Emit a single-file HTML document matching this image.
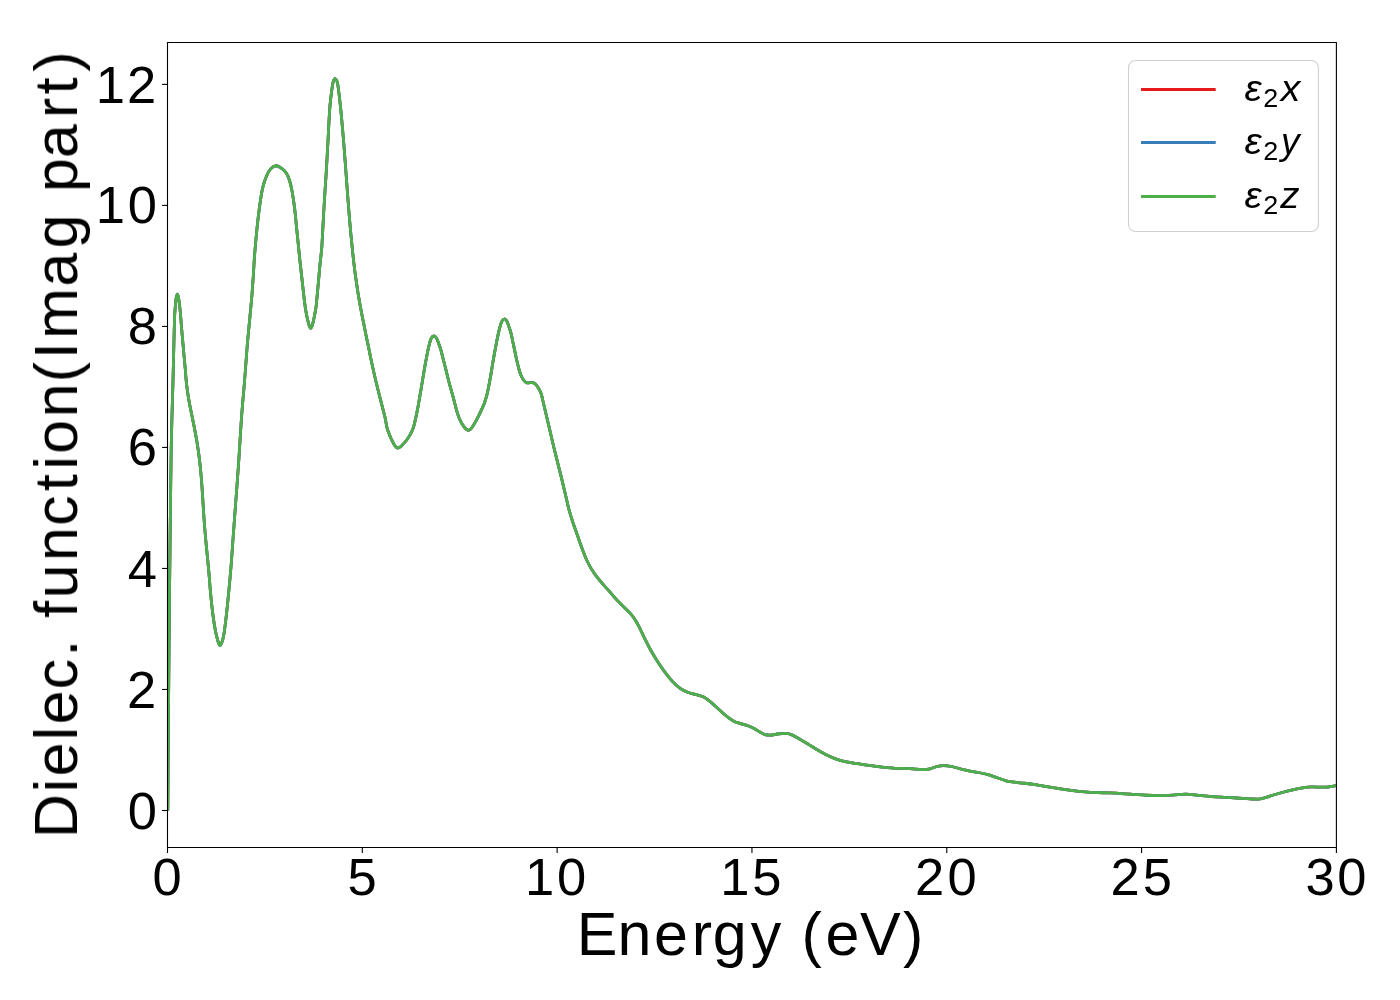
<!DOCTYPE html>
<html><head><meta charset="utf-8"><style>
html,body{margin:0;padding:0;background:#fff;overflow:hidden}
svg{display:block}
</style></head><body>
<svg width="1400" height="1000" viewBox="0 0 1400 1000">
<rect width="1400" height="1000" fill="#fff"/>
<clipPath id="ax"><rect x="167.5" y="42.5" width="1168.9" height="805.0"/></clipPath>
<g clip-path="url(#ax)" fill="none" stroke-width="2.78" stroke-linejoin="round" stroke-linecap="butt">
<path d="M167.80,810.50 C167.93,792.08 168.32,735.08 168.60,700.00 C168.88,664.92 169.10,636.67 169.46,600.00 C169.82,563.33 170.46,506.67 170.78,480.00 C171.10,453.34 171.15,451.67 171.38,440.00 C171.61,428.33 171.88,420.00 172.15,410.00 C172.43,400.00 172.72,391.67 173.02,380.00 C173.32,368.33 173.74,349.17 173.97,340.00 C174.19,330.83 174.23,329.51 174.37,325.01 C174.51,320.51 174.62,316.34 174.79,313.00 C174.97,309.67 175.19,307.54 175.43,305.00 C175.66,302.47 175.87,299.60 176.20,297.80 C176.53,296.00 177.00,294.13 177.40,294.20 C177.80,294.27 178.23,296.27 178.60,298.20 C178.97,300.13 179.29,303.00 179.62,305.80 C179.95,308.60 180.28,311.80 180.56,315.00 C180.84,318.21 180.98,320.84 181.32,325.01 C181.66,329.17 182.10,334.16 182.61,339.99 C183.13,345.82 183.99,355.18 184.44,360.01 C184.88,364.85 185.00,365.66 185.28,368.99 C185.56,372.33 185.75,376.18 186.13,380.01 C186.51,383.84 187.00,387.99 187.57,391.99 C188.14,395.99 188.83,400.00 189.57,404.00 C190.31,408.00 191.19,412.00 192.00,416.00 C192.81,420.00 193.65,424.00 194.42,428.00 C195.19,432.00 195.95,436.00 196.62,440.00 C197.30,444.00 197.92,448.00 198.48,452.00 C199.04,456.00 199.54,460.00 199.98,464.00 C200.42,468.00 200.80,472.00 201.14,476.00 C201.49,480.00 201.78,484.00 202.06,488.00 C202.34,492.00 202.58,496.00 202.83,500.00 C203.09,504.00 203.32,508.00 203.58,512.00 C203.85,516.00 204.11,520.00 204.41,524.00 C204.71,528.00 205.04,532.00 205.39,536.00 C205.73,540.00 206.12,544.00 206.51,548.00 C206.90,552.00 207.34,556.00 207.73,560.00 C208.12,564.00 208.49,568.00 208.84,572.00 C209.18,576.00 209.55,580.83 209.81,584.00 C210.06,587.16 210.01,587.17 210.38,591.00 C210.74,594.84 211.44,602.17 211.98,607.00 C212.53,611.84 213.09,616.16 213.63,619.99 C214.18,623.82 214.75,627.18 215.28,629.98 C215.81,632.78 216.27,634.73 216.79,636.80 C217.31,638.87 217.86,640.93 218.40,642.40 C218.94,643.87 219.40,645.67 220.00,645.60 C220.60,645.53 221.40,643.60 222.00,642.00 C222.60,640.40 223.17,638.00 223.60,635.99 C224.02,633.98 224.04,633.94 224.56,629.94 C225.08,625.95 226.06,617.99 226.72,612.00 C227.38,606.01 227.95,600.00 228.54,594.00 C229.12,588.00 229.70,581.99 230.23,575.99 C230.75,569.99 231.23,564.00 231.68,558.00 C232.14,552.00 232.54,545.67 232.95,540.00 C233.35,534.33 233.67,530.17 234.12,524.00 C234.58,517.83 235.15,510.00 235.67,503.00 C236.19,496.00 236.74,489.00 237.25,482.00 C237.77,475.00 238.28,468.00 238.75,461.00 C239.22,454.00 239.63,446.83 240.06,440.00 C240.49,433.17 240.88,426.34 241.33,420.01 C241.78,413.68 242.25,408.00 242.75,402.00 C243.25,395.99 243.83,390.00 244.32,384.00 C244.81,378.00 245.25,372.00 245.70,366.00 C246.16,360.00 246.55,354.00 247.04,348.00 C247.53,342.00 248.09,336.01 248.65,330.01 C249.21,324.01 249.84,317.99 250.40,311.99 C250.96,305.99 251.53,300.00 252.01,294.00 C252.50,288.00 252.91,282.00 253.31,276.00 C253.70,270.00 253.95,263.98 254.38,257.99 C254.81,251.99 255.33,246.03 255.88,240.03 C256.43,234.02 257.01,227.97 257.69,221.96 C258.37,215.96 259.11,209.69 259.94,204.01 C260.77,198.32 261.59,192.46 262.67,187.84 C263.75,183.23 265.11,179.47 266.44,176.31 C267.76,173.16 269.01,170.66 270.60,168.90 C272.19,167.14 274.05,165.75 276.00,165.75 C277.95,165.75 280.53,167.60 282.30,168.90 C284.07,170.20 285.38,171.60 286.60,173.58 C287.82,175.55 288.70,177.78 289.62,180.75 C290.54,183.72 291.29,186.78 292.12,191.40 C292.96,196.03 293.99,203.38 294.63,208.48 C295.28,213.59 295.48,216.77 296.01,222.02 C296.55,227.27 297.19,233.64 297.83,239.98 C298.47,246.31 299.14,253.35 299.85,260.02 C300.55,266.69 301.33,273.33 302.07,279.99 C302.81,286.65 303.75,295.32 304.31,299.99 C304.86,304.65 305.00,305.47 305.39,308.00 C305.79,310.53 306.22,312.99 306.65,315.19 C307.08,317.39 307.56,319.47 307.98,321.20 C308.40,322.94 308.76,324.40 309.20,325.60 C309.64,326.80 310.10,328.40 310.60,328.40 C311.10,328.40 311.70,327.00 312.20,325.60 C312.70,324.20 313.17,321.94 313.61,320.01 C314.04,318.07 314.42,316.14 314.82,314.00 C315.22,311.87 315.67,309.53 315.99,307.20 C316.32,304.86 316.34,304.51 316.77,299.98 C317.20,295.44 318.06,285.84 318.59,280.01 C319.12,274.18 319.45,270.00 319.95,265.00 C320.45,259.99 321.18,254.17 321.56,250.00 C321.94,245.84 321.89,245.82 322.23,239.98 C322.56,234.15 323.09,223.33 323.56,215.00 C324.04,206.67 324.60,197.51 325.07,190.01 C325.54,182.50 325.88,178.33 326.38,169.99 C326.87,161.66 327.58,148.50 328.04,140.00 C328.49,131.50 328.78,124.84 329.11,119.01 C329.45,113.17 329.62,109.66 330.05,105.00 C330.47,100.34 331.14,94.89 331.67,91.04 C332.19,87.19 332.59,83.95 333.20,81.90 C333.81,79.85 334.60,78.63 335.30,78.75 C336.00,78.87 336.77,79.97 337.40,82.60 C338.03,85.23 338.56,90.19 339.11,94.51 C339.65,98.82 340.18,103.83 340.66,108.49 C341.14,113.16 341.50,117.25 341.97,122.50 C342.45,127.75 343.02,134.08 343.50,140.00 C343.99,145.92 344.43,152.00 344.89,158.00 C345.34,164.00 345.79,170.00 346.23,176.00 C346.68,182.00 347.10,188.00 347.55,194.00 C348.00,200.00 348.46,206.00 348.95,212.00 C349.44,218.00 350.05,225.25 350.48,230.00 C350.91,234.75 351.17,237.00 351.52,240.50 C351.86,244.00 352.18,247.51 352.54,251.01 C352.90,254.51 353.28,257.99 353.68,261.49 C354.08,264.99 354.48,268.51 354.94,272.01 C355.41,275.51 355.88,278.66 356.45,282.49 C357.01,286.33 357.72,291.18 358.34,295.01 C358.96,298.84 359.53,301.99 360.17,305.49 C360.81,308.99 361.48,312.50 362.17,316.01 C362.86,319.51 363.60,323.00 364.30,326.50 C365.00,330.00 365.64,333.51 366.37,337.01 C367.09,340.50 367.91,343.96 368.64,347.47 C369.36,350.98 369.72,353.40 370.71,358.06 C371.69,362.73 373.12,369.28 374.55,375.44 C375.99,381.61 377.70,388.52 379.33,395.04 C380.96,401.56 383.30,410.42 384.33,414.57 C385.37,418.72 385.06,417.70 385.52,419.95 C385.99,422.19 386.43,425.48 387.12,428.02 C387.81,430.56 388.78,432.97 389.65,435.17 C390.52,437.38 391.49,439.49 392.35,441.22 C393.20,442.96 393.92,444.47 394.80,445.60 C395.68,446.73 396.67,447.80 397.60,448.00 C398.53,448.20 399.40,447.53 400.40,446.80 C401.40,446.07 402.48,444.88 403.62,443.62 C404.76,442.36 406.13,440.76 407.25,439.22 C408.36,437.67 409.33,436.23 410.32,434.36 C411.32,432.49 412.45,430.07 413.21,427.99 C413.96,425.92 414.12,425.24 414.88,421.91 C415.65,418.57 416.75,413.55 417.80,407.98 C418.84,402.42 420.06,395.01 421.16,388.51 C422.27,382.01 423.61,373.75 424.42,369.00 C425.23,364.25 425.51,362.84 426.03,360.01 C426.56,357.17 427.05,354.53 427.58,351.99 C428.10,349.46 428.61,347.04 429.21,344.78 C429.81,342.51 430.40,339.86 431.20,338.40 C432.00,336.94 433.13,336.07 434.00,336.00 C434.87,335.93 435.69,336.93 436.40,338.00 C437.11,339.07 437.57,340.66 438.26,342.45 C438.95,344.24 439.85,346.48 440.55,348.76 C441.25,351.03 441.63,352.80 442.46,356.09 C443.30,359.37 444.45,364.00 445.58,368.46 C446.70,372.91 447.95,378.05 449.21,382.82 C450.48,387.60 452.16,393.41 453.16,397.11 C454.16,400.81 454.50,402.36 455.19,405.00 C455.89,407.64 456.62,410.62 457.35,412.96 C458.07,415.29 458.78,417.20 459.56,419.01 C460.34,420.81 461.15,422.33 462.03,423.79 C462.90,425.26 463.84,426.73 464.80,427.80 C465.76,428.87 466.80,430.00 467.80,430.20 C468.80,430.40 469.83,429.86 470.80,429.00 C471.77,428.14 472.68,426.49 473.61,425.02 C474.54,423.55 475.39,422.06 476.38,420.19 C477.38,418.32 478.50,416.05 479.59,413.80 C480.68,411.54 482.14,408.37 482.93,406.66 C483.71,404.95 483.57,405.79 484.30,403.53 C485.03,401.27 486.31,397.42 487.33,393.11 C488.34,388.79 489.44,382.80 490.37,377.62 C491.31,372.44 491.99,367.44 492.93,362.00 C493.87,356.57 495.23,349.17 496.01,345.00 C496.80,340.84 497.02,339.81 497.62,337.00 C498.22,334.20 498.95,330.72 499.61,328.19 C500.28,325.65 500.80,323.33 501.60,321.80 C502.40,320.27 503.53,319.13 504.40,319.00 C505.27,318.87 506.09,319.85 506.80,321.00 C507.51,322.15 507.96,323.88 508.64,325.87 C509.32,327.87 510.15,330.11 510.90,332.97 C511.64,335.83 512.62,340.78 513.10,343.02 C513.59,345.25 513.23,343.54 513.83,346.38 C514.42,349.21 515.95,356.76 516.68,360.03 C517.40,363.29 517.68,364.10 518.15,365.96 C518.63,367.83 518.94,369.42 519.53,371.22 C520.11,373.03 520.97,375.27 521.67,376.78 C522.37,378.29 523.01,379.33 523.73,380.27 C524.45,381.21 525.16,381.98 526.00,382.40 C526.84,382.82 527.80,382.77 528.80,382.80 C529.80,382.83 531.07,382.53 532.00,382.60 C532.93,382.67 533.67,382.77 534.40,383.20 C535.13,383.63 535.74,384.39 536.40,385.19 C537.06,386.00 537.69,386.89 538.37,388.02 C539.04,389.15 539.89,390.64 540.46,391.98 C541.04,393.31 541.47,394.70 541.84,396.05 C542.21,397.39 542.21,397.87 542.71,400.03 C543.20,402.18 543.87,404.87 544.84,408.97 C545.81,413.07 547.26,419.19 548.53,424.62 C549.80,430.04 551.12,435.89 552.46,441.51 C553.80,447.13 555.07,452.29 556.57,458.36 C558.08,464.43 559.80,470.99 561.48,477.93 C563.17,484.87 565.47,494.77 566.71,500.02 C567.94,505.26 567.87,505.65 568.91,509.40 C569.94,513.15 571.47,518.17 572.91,522.52 C574.35,526.88 576.00,531.19 577.52,535.53 C579.05,539.86 580.44,544.19 582.08,548.52 C583.71,552.85 585.35,557.43 587.34,561.51 C589.33,565.59 591.67,569.53 594.02,573.02 C596.36,576.50 598.86,579.36 601.41,582.43 C603.97,585.50 606.70,588.45 609.35,591.45 C611.99,594.45 614.67,597.63 617.29,600.42 C619.91,603.22 622.89,606.07 625.06,608.23 C627.24,610.40 628.51,611.28 630.31,613.40 C632.12,615.52 634.19,618.23 635.88,620.94 C637.58,623.65 639.01,626.72 640.48,629.65 C641.96,632.58 643.07,635.24 644.71,638.55 C646.36,641.85 648.33,645.82 650.36,649.48 C652.39,653.13 654.55,656.81 656.91,660.49 C659.27,664.17 661.93,668.10 664.51,671.58 C667.09,675.05 669.80,678.54 672.40,681.34 C675.00,684.14 677.58,686.56 680.13,688.38 C682.67,690.20 685.14,691.25 687.66,692.26 C690.19,693.27 692.90,693.77 695.29,694.45 C697.68,695.12 700.28,695.68 702.00,696.30 C703.72,696.93 704.02,697.14 705.59,698.19 C707.15,699.24 709.47,701.01 711.39,702.60 C713.31,704.18 715.21,705.95 717.12,707.68 C719.03,709.41 720.91,711.29 722.84,712.98 C724.77,714.68 726.80,716.46 728.71,717.87 C730.62,719.27 732.40,720.48 734.29,721.41 C736.19,722.33 737.82,722.69 740.08,723.42 C742.35,724.14 745.62,724.95 747.89,725.75 C750.16,726.56 751.79,727.23 753.71,728.23 C755.63,729.24 757.50,730.72 759.40,731.78 C761.30,732.84 763.18,734.05 765.10,734.60 C767.02,735.15 768.80,735.20 770.90,735.10 C773.00,735.00 775.23,734.28 777.70,734.00 C780.17,733.72 783.42,733.30 785.70,733.40 C787.98,733.50 789.11,733.67 791.40,734.60 C793.69,735.53 796.60,737.33 799.46,738.97 C802.32,740.60 805.50,742.56 808.54,744.39 C811.59,746.23 814.85,748.29 817.72,749.98 C820.59,751.67 822.88,753.10 825.74,754.54 C828.60,755.98 831.85,757.46 834.90,758.60 C837.94,759.74 841.14,760.69 844.00,761.39 C846.85,762.10 849.13,762.35 852.02,762.83 C854.91,763.31 857.88,763.74 861.36,764.26 C864.85,764.78 869.10,765.43 872.92,765.96 C876.75,766.48 880.50,767.01 884.30,767.40 C888.10,767.79 891.90,768.15 895.70,768.30 C899.50,768.45 903.67,768.17 907.10,768.30 C910.53,768.43 913.43,768.87 916.30,769.10 C919.17,769.33 922.02,769.75 924.30,769.70 C926.58,769.65 927.90,769.33 930.00,768.80 C932.10,768.27 934.62,767.02 936.90,766.50 C939.18,765.98 941.23,765.70 943.70,765.70 C946.17,765.70 949.04,766.01 951.70,766.50 C954.36,766.99 956.81,767.92 959.69,768.65 C962.56,769.38 965.71,770.22 968.94,770.88 C972.18,771.55 976.09,772.05 979.10,772.64 C982.11,773.23 984.13,773.61 987.00,774.42 C989.88,775.23 993.18,776.43 996.36,777.50 C999.55,778.58 1003.49,780.13 1006.12,780.86 C1008.75,781.59 1009.11,781.48 1012.14,781.88 C1015.17,782.28 1020.24,782.75 1024.28,783.25 C1028.33,783.75 1032.34,784.27 1036.40,784.89 C1040.45,785.50 1044.56,786.29 1048.61,786.96 C1052.66,787.64 1056.65,788.32 1060.70,788.92 C1064.75,789.52 1068.85,790.10 1072.90,790.58 C1076.95,791.05 1080.97,791.45 1085.00,791.77 C1089.03,792.10 1093.05,792.32 1097.10,792.52 C1101.15,792.71 1105.25,792.78 1109.30,792.95 C1113.35,793.12 1117.34,793.29 1121.39,793.53 C1125.44,793.76 1129.55,794.07 1133.60,794.35 C1137.65,794.63 1141.65,794.99 1145.70,795.20 C1149.75,795.41 1153.37,795.62 1157.90,795.60 C1162.43,795.58 1168.27,795.33 1172.90,795.10 C1177.53,794.87 1181.42,794.15 1185.70,794.20 C1189.98,794.25 1194.31,795.01 1198.60,795.40 C1202.89,795.79 1207.13,796.21 1211.41,796.53 C1215.69,796.85 1220.01,797.07 1224.29,797.31 C1228.57,797.56 1232.82,797.74 1237.10,798.00 C1241.38,798.26 1246.13,798.75 1250.00,798.90 C1253.87,799.05 1257.08,799.33 1260.30,798.90 C1263.52,798.47 1265.67,797.37 1269.30,796.30 C1272.93,795.23 1277.82,793.66 1282.10,792.49 C1286.39,791.33 1290.72,790.20 1295.00,789.30 C1299.28,788.40 1303.52,787.47 1307.80,787.10 C1312.08,786.73 1317.48,787.10 1320.70,787.10 C1323.92,787.10 1324.48,787.37 1327.10,787.10 C1329.72,786.83 1334.85,785.77 1336.40,785.50" stroke="#e41a1c"/>
<path d="M167.80,810.50 C167.93,792.08 168.32,735.08 168.60,700.00 C168.88,664.92 169.10,636.67 169.46,600.00 C169.82,563.33 170.46,506.67 170.78,480.00 C171.10,453.34 171.15,451.67 171.38,440.00 C171.61,428.33 171.88,420.00 172.15,410.00 C172.43,400.00 172.72,391.67 173.02,380.00 C173.32,368.33 173.74,349.17 173.97,340.00 C174.19,330.83 174.23,329.51 174.37,325.01 C174.51,320.51 174.62,316.34 174.79,313.00 C174.97,309.67 175.19,307.54 175.43,305.00 C175.66,302.47 175.87,299.60 176.20,297.80 C176.53,296.00 177.00,294.13 177.40,294.20 C177.80,294.27 178.23,296.27 178.60,298.20 C178.97,300.13 179.29,303.00 179.62,305.80 C179.95,308.60 180.28,311.80 180.56,315.00 C180.84,318.21 180.98,320.84 181.32,325.01 C181.66,329.17 182.10,334.16 182.61,339.99 C183.13,345.82 183.99,355.18 184.44,360.01 C184.88,364.85 185.00,365.66 185.28,368.99 C185.56,372.33 185.75,376.18 186.13,380.01 C186.51,383.84 187.00,387.99 187.57,391.99 C188.14,395.99 188.83,400.00 189.57,404.00 C190.31,408.00 191.19,412.00 192.00,416.00 C192.81,420.00 193.65,424.00 194.42,428.00 C195.19,432.00 195.95,436.00 196.62,440.00 C197.30,444.00 197.92,448.00 198.48,452.00 C199.04,456.00 199.54,460.00 199.98,464.00 C200.42,468.00 200.80,472.00 201.14,476.00 C201.49,480.00 201.78,484.00 202.06,488.00 C202.34,492.00 202.58,496.00 202.83,500.00 C203.09,504.00 203.32,508.00 203.58,512.00 C203.85,516.00 204.11,520.00 204.41,524.00 C204.71,528.00 205.04,532.00 205.39,536.00 C205.73,540.00 206.12,544.00 206.51,548.00 C206.90,552.00 207.34,556.00 207.73,560.00 C208.12,564.00 208.49,568.00 208.84,572.00 C209.18,576.00 209.55,580.83 209.81,584.00 C210.06,587.16 210.01,587.17 210.38,591.00 C210.74,594.84 211.44,602.17 211.98,607.00 C212.53,611.84 213.09,616.16 213.63,619.99 C214.18,623.82 214.75,627.18 215.28,629.98 C215.81,632.78 216.27,634.73 216.79,636.80 C217.31,638.87 217.86,640.93 218.40,642.40 C218.94,643.87 219.40,645.67 220.00,645.60 C220.60,645.53 221.40,643.60 222.00,642.00 C222.60,640.40 223.17,638.00 223.60,635.99 C224.02,633.98 224.04,633.94 224.56,629.94 C225.08,625.95 226.06,617.99 226.72,612.00 C227.38,606.01 227.95,600.00 228.54,594.00 C229.12,588.00 229.70,581.99 230.23,575.99 C230.75,569.99 231.23,564.00 231.68,558.00 C232.14,552.00 232.54,545.67 232.95,540.00 C233.35,534.33 233.67,530.17 234.12,524.00 C234.58,517.83 235.15,510.00 235.67,503.00 C236.19,496.00 236.74,489.00 237.25,482.00 C237.77,475.00 238.28,468.00 238.75,461.00 C239.22,454.00 239.63,446.83 240.06,440.00 C240.49,433.17 240.88,426.34 241.33,420.01 C241.78,413.68 242.25,408.00 242.75,402.00 C243.25,395.99 243.83,390.00 244.32,384.00 C244.81,378.00 245.25,372.00 245.70,366.00 C246.16,360.00 246.55,354.00 247.04,348.00 C247.53,342.00 248.09,336.01 248.65,330.01 C249.21,324.01 249.84,317.99 250.40,311.99 C250.96,305.99 251.53,300.00 252.01,294.00 C252.50,288.00 252.91,282.00 253.31,276.00 C253.70,270.00 253.95,263.98 254.38,257.99 C254.81,251.99 255.33,246.03 255.88,240.03 C256.43,234.02 257.01,227.97 257.69,221.96 C258.37,215.96 259.11,209.69 259.94,204.01 C260.77,198.32 261.59,192.46 262.67,187.84 C263.75,183.23 265.11,179.47 266.44,176.31 C267.76,173.16 269.01,170.66 270.60,168.90 C272.19,167.14 274.05,165.75 276.00,165.75 C277.95,165.75 280.53,167.60 282.30,168.90 C284.07,170.20 285.38,171.60 286.60,173.58 C287.82,175.55 288.70,177.78 289.62,180.75 C290.54,183.72 291.29,186.78 292.12,191.40 C292.96,196.03 293.99,203.38 294.63,208.48 C295.28,213.59 295.48,216.77 296.01,222.02 C296.55,227.27 297.19,233.64 297.83,239.98 C298.47,246.31 299.14,253.35 299.85,260.02 C300.55,266.69 301.33,273.33 302.07,279.99 C302.81,286.65 303.75,295.32 304.31,299.99 C304.86,304.65 305.00,305.47 305.39,308.00 C305.79,310.53 306.22,312.99 306.65,315.19 C307.08,317.39 307.56,319.47 307.98,321.20 C308.40,322.94 308.76,324.40 309.20,325.60 C309.64,326.80 310.10,328.40 310.60,328.40 C311.10,328.40 311.70,327.00 312.20,325.60 C312.70,324.20 313.17,321.94 313.61,320.01 C314.04,318.07 314.42,316.14 314.82,314.00 C315.22,311.87 315.67,309.53 315.99,307.20 C316.32,304.86 316.34,304.51 316.77,299.98 C317.20,295.44 318.06,285.84 318.59,280.01 C319.12,274.18 319.45,270.00 319.95,265.00 C320.45,259.99 321.18,254.17 321.56,250.00 C321.94,245.84 321.89,245.82 322.23,239.98 C322.56,234.15 323.09,223.33 323.56,215.00 C324.04,206.67 324.60,197.51 325.07,190.01 C325.54,182.50 325.88,178.33 326.38,169.99 C326.87,161.66 327.58,148.50 328.04,140.00 C328.49,131.50 328.78,124.84 329.11,119.01 C329.45,113.17 329.62,109.66 330.05,105.00 C330.47,100.34 331.14,94.89 331.67,91.04 C332.19,87.19 332.59,83.95 333.20,81.90 C333.81,79.85 334.60,78.63 335.30,78.75 C336.00,78.87 336.77,79.97 337.40,82.60 C338.03,85.23 338.56,90.19 339.11,94.51 C339.65,98.82 340.18,103.83 340.66,108.49 C341.14,113.16 341.50,117.25 341.97,122.50 C342.45,127.75 343.02,134.08 343.50,140.00 C343.99,145.92 344.43,152.00 344.89,158.00 C345.34,164.00 345.79,170.00 346.23,176.00 C346.68,182.00 347.10,188.00 347.55,194.00 C348.00,200.00 348.46,206.00 348.95,212.00 C349.44,218.00 350.05,225.25 350.48,230.00 C350.91,234.75 351.17,237.00 351.52,240.50 C351.86,244.00 352.18,247.51 352.54,251.01 C352.90,254.51 353.28,257.99 353.68,261.49 C354.08,264.99 354.48,268.51 354.94,272.01 C355.41,275.51 355.88,278.66 356.45,282.49 C357.01,286.33 357.72,291.18 358.34,295.01 C358.96,298.84 359.53,301.99 360.17,305.49 C360.81,308.99 361.48,312.50 362.17,316.01 C362.86,319.51 363.60,323.00 364.30,326.50 C365.00,330.00 365.64,333.51 366.37,337.01 C367.09,340.50 367.91,343.96 368.64,347.47 C369.36,350.98 369.72,353.40 370.71,358.06 C371.69,362.73 373.12,369.28 374.55,375.44 C375.99,381.61 377.70,388.52 379.33,395.04 C380.96,401.56 383.30,410.42 384.33,414.57 C385.37,418.72 385.06,417.70 385.52,419.95 C385.99,422.19 386.43,425.48 387.12,428.02 C387.81,430.56 388.78,432.97 389.65,435.17 C390.52,437.38 391.49,439.49 392.35,441.22 C393.20,442.96 393.92,444.47 394.80,445.60 C395.68,446.73 396.67,447.80 397.60,448.00 C398.53,448.20 399.40,447.53 400.40,446.80 C401.40,446.07 402.48,444.88 403.62,443.62 C404.76,442.36 406.13,440.76 407.25,439.22 C408.36,437.67 409.33,436.23 410.32,434.36 C411.32,432.49 412.45,430.07 413.21,427.99 C413.96,425.92 414.12,425.24 414.88,421.91 C415.65,418.57 416.75,413.55 417.80,407.98 C418.84,402.42 420.06,395.01 421.16,388.51 C422.27,382.01 423.61,373.75 424.42,369.00 C425.23,364.25 425.51,362.84 426.03,360.01 C426.56,357.17 427.05,354.53 427.58,351.99 C428.10,349.46 428.61,347.04 429.21,344.78 C429.81,342.51 430.40,339.86 431.20,338.40 C432.00,336.94 433.13,336.07 434.00,336.00 C434.87,335.93 435.69,336.93 436.40,338.00 C437.11,339.07 437.57,340.66 438.26,342.45 C438.95,344.24 439.85,346.48 440.55,348.76 C441.25,351.03 441.63,352.80 442.46,356.09 C443.30,359.37 444.45,364.00 445.58,368.46 C446.70,372.91 447.95,378.05 449.21,382.82 C450.48,387.60 452.16,393.41 453.16,397.11 C454.16,400.81 454.50,402.36 455.19,405.00 C455.89,407.64 456.62,410.62 457.35,412.96 C458.07,415.29 458.78,417.20 459.56,419.01 C460.34,420.81 461.15,422.33 462.03,423.79 C462.90,425.26 463.84,426.73 464.80,427.80 C465.76,428.87 466.80,430.00 467.80,430.20 C468.80,430.40 469.83,429.86 470.80,429.00 C471.77,428.14 472.68,426.49 473.61,425.02 C474.54,423.55 475.39,422.06 476.38,420.19 C477.38,418.32 478.50,416.05 479.59,413.80 C480.68,411.54 482.14,408.37 482.93,406.66 C483.71,404.95 483.57,405.79 484.30,403.53 C485.03,401.27 486.31,397.42 487.33,393.11 C488.34,388.79 489.44,382.80 490.37,377.62 C491.31,372.44 491.99,367.44 492.93,362.00 C493.87,356.57 495.23,349.17 496.01,345.00 C496.80,340.84 497.02,339.81 497.62,337.00 C498.22,334.20 498.95,330.72 499.61,328.19 C500.28,325.65 500.80,323.33 501.60,321.80 C502.40,320.27 503.53,319.13 504.40,319.00 C505.27,318.87 506.09,319.85 506.80,321.00 C507.51,322.15 507.96,323.88 508.64,325.87 C509.32,327.87 510.15,330.11 510.90,332.97 C511.64,335.83 512.62,340.78 513.10,343.02 C513.59,345.25 513.23,343.54 513.83,346.38 C514.42,349.21 515.95,356.76 516.68,360.03 C517.40,363.29 517.68,364.10 518.15,365.96 C518.63,367.83 518.94,369.42 519.53,371.22 C520.11,373.03 520.97,375.27 521.67,376.78 C522.37,378.29 523.01,379.33 523.73,380.27 C524.45,381.21 525.16,381.98 526.00,382.40 C526.84,382.82 527.80,382.77 528.80,382.80 C529.80,382.83 531.07,382.53 532.00,382.60 C532.93,382.67 533.67,382.77 534.40,383.20 C535.13,383.63 535.74,384.39 536.40,385.19 C537.06,386.00 537.69,386.89 538.37,388.02 C539.04,389.15 539.89,390.64 540.46,391.98 C541.04,393.31 541.47,394.70 541.84,396.05 C542.21,397.39 542.21,397.87 542.71,400.03 C543.20,402.18 543.87,404.87 544.84,408.97 C545.81,413.07 547.26,419.19 548.53,424.62 C549.80,430.04 551.12,435.89 552.46,441.51 C553.80,447.13 555.07,452.29 556.57,458.36 C558.08,464.43 559.80,470.99 561.48,477.93 C563.17,484.87 565.47,494.77 566.71,500.02 C567.94,505.26 567.87,505.65 568.91,509.40 C569.94,513.15 571.47,518.17 572.91,522.52 C574.35,526.88 576.00,531.19 577.52,535.53 C579.05,539.86 580.44,544.19 582.08,548.52 C583.71,552.85 585.35,557.43 587.34,561.51 C589.33,565.59 591.67,569.53 594.02,573.02 C596.36,576.50 598.86,579.36 601.41,582.43 C603.97,585.50 606.70,588.45 609.35,591.45 C611.99,594.45 614.67,597.63 617.29,600.42 C619.91,603.22 622.89,606.07 625.06,608.23 C627.24,610.40 628.51,611.28 630.31,613.40 C632.12,615.52 634.19,618.23 635.88,620.94 C637.58,623.65 639.01,626.72 640.48,629.65 C641.96,632.58 643.07,635.24 644.71,638.55 C646.36,641.85 648.33,645.82 650.36,649.48 C652.39,653.13 654.55,656.81 656.91,660.49 C659.27,664.17 661.93,668.10 664.51,671.58 C667.09,675.05 669.80,678.54 672.40,681.34 C675.00,684.14 677.58,686.56 680.13,688.38 C682.67,690.20 685.14,691.25 687.66,692.26 C690.19,693.27 692.90,693.77 695.29,694.45 C697.68,695.12 700.28,695.68 702.00,696.30 C703.72,696.93 704.02,697.14 705.59,698.19 C707.15,699.24 709.47,701.01 711.39,702.60 C713.31,704.18 715.21,705.95 717.12,707.68 C719.03,709.41 720.91,711.29 722.84,712.98 C724.77,714.68 726.80,716.46 728.71,717.87 C730.62,719.27 732.40,720.48 734.29,721.41 C736.19,722.33 737.82,722.69 740.08,723.42 C742.35,724.14 745.62,724.95 747.89,725.75 C750.16,726.56 751.79,727.23 753.71,728.23 C755.63,729.24 757.50,730.72 759.40,731.78 C761.30,732.84 763.18,734.05 765.10,734.60 C767.02,735.15 768.80,735.20 770.90,735.10 C773.00,735.00 775.23,734.28 777.70,734.00 C780.17,733.72 783.42,733.30 785.70,733.40 C787.98,733.50 789.11,733.67 791.40,734.60 C793.69,735.53 796.60,737.33 799.46,738.97 C802.32,740.60 805.50,742.56 808.54,744.39 C811.59,746.23 814.85,748.29 817.72,749.98 C820.59,751.67 822.88,753.10 825.74,754.54 C828.60,755.98 831.85,757.46 834.90,758.60 C837.94,759.74 841.14,760.69 844.00,761.39 C846.85,762.10 849.13,762.35 852.02,762.83 C854.91,763.31 857.88,763.74 861.36,764.26 C864.85,764.78 869.10,765.43 872.92,765.96 C876.75,766.48 880.50,767.01 884.30,767.40 C888.10,767.79 891.90,768.15 895.70,768.30 C899.50,768.45 903.67,768.17 907.10,768.30 C910.53,768.43 913.43,768.87 916.30,769.10 C919.17,769.33 922.02,769.75 924.30,769.70 C926.58,769.65 927.90,769.33 930.00,768.80 C932.10,768.27 934.62,767.02 936.90,766.50 C939.18,765.98 941.23,765.70 943.70,765.70 C946.17,765.70 949.04,766.01 951.70,766.50 C954.36,766.99 956.81,767.92 959.69,768.65 C962.56,769.38 965.71,770.22 968.94,770.88 C972.18,771.55 976.09,772.05 979.10,772.64 C982.11,773.23 984.13,773.61 987.00,774.42 C989.88,775.23 993.18,776.43 996.36,777.50 C999.55,778.58 1003.49,780.13 1006.12,780.86 C1008.75,781.59 1009.11,781.48 1012.14,781.88 C1015.17,782.28 1020.24,782.75 1024.28,783.25 C1028.33,783.75 1032.34,784.27 1036.40,784.89 C1040.45,785.50 1044.56,786.29 1048.61,786.96 C1052.66,787.64 1056.65,788.32 1060.70,788.92 C1064.75,789.52 1068.85,790.10 1072.90,790.58 C1076.95,791.05 1080.97,791.45 1085.00,791.77 C1089.03,792.10 1093.05,792.32 1097.10,792.52 C1101.15,792.71 1105.25,792.78 1109.30,792.95 C1113.35,793.12 1117.34,793.29 1121.39,793.53 C1125.44,793.76 1129.55,794.07 1133.60,794.35 C1137.65,794.63 1141.65,794.99 1145.70,795.20 C1149.75,795.41 1153.37,795.62 1157.90,795.60 C1162.43,795.58 1168.27,795.33 1172.90,795.10 C1177.53,794.87 1181.42,794.15 1185.70,794.20 C1189.98,794.25 1194.31,795.01 1198.60,795.40 C1202.89,795.79 1207.13,796.21 1211.41,796.53 C1215.69,796.85 1220.01,797.07 1224.29,797.31 C1228.57,797.56 1232.82,797.74 1237.10,798.00 C1241.38,798.26 1246.13,798.75 1250.00,798.90 C1253.87,799.05 1257.08,799.33 1260.30,798.90 C1263.52,798.47 1265.67,797.37 1269.30,796.30 C1272.93,795.23 1277.82,793.66 1282.10,792.49 C1286.39,791.33 1290.72,790.20 1295.00,789.30 C1299.28,788.40 1303.52,787.47 1307.80,787.10 C1312.08,786.73 1317.48,787.10 1320.70,787.10 C1323.92,787.10 1324.48,787.37 1327.10,787.10 C1329.72,786.83 1334.85,785.77 1336.40,785.50" stroke="#377eb8"/>
<path d="M167.80,810.50 C167.93,792.08 168.32,735.08 168.60,700.00 C168.88,664.92 169.10,636.67 169.46,600.00 C169.82,563.33 170.46,506.67 170.78,480.00 C171.10,453.34 171.15,451.67 171.38,440.00 C171.61,428.33 171.88,420.00 172.15,410.00 C172.43,400.00 172.72,391.67 173.02,380.00 C173.32,368.33 173.74,349.17 173.97,340.00 C174.19,330.83 174.23,329.51 174.37,325.01 C174.51,320.51 174.62,316.34 174.79,313.00 C174.97,309.67 175.19,307.54 175.43,305.00 C175.66,302.47 175.87,299.60 176.20,297.80 C176.53,296.00 177.00,294.13 177.40,294.20 C177.80,294.27 178.23,296.27 178.60,298.20 C178.97,300.13 179.29,303.00 179.62,305.80 C179.95,308.60 180.28,311.80 180.56,315.00 C180.84,318.21 180.98,320.84 181.32,325.01 C181.66,329.17 182.10,334.16 182.61,339.99 C183.13,345.82 183.99,355.18 184.44,360.01 C184.88,364.85 185.00,365.66 185.28,368.99 C185.56,372.33 185.75,376.18 186.13,380.01 C186.51,383.84 187.00,387.99 187.57,391.99 C188.14,395.99 188.83,400.00 189.57,404.00 C190.31,408.00 191.19,412.00 192.00,416.00 C192.81,420.00 193.65,424.00 194.42,428.00 C195.19,432.00 195.95,436.00 196.62,440.00 C197.30,444.00 197.92,448.00 198.48,452.00 C199.04,456.00 199.54,460.00 199.98,464.00 C200.42,468.00 200.80,472.00 201.14,476.00 C201.49,480.00 201.78,484.00 202.06,488.00 C202.34,492.00 202.58,496.00 202.83,500.00 C203.09,504.00 203.32,508.00 203.58,512.00 C203.85,516.00 204.11,520.00 204.41,524.00 C204.71,528.00 205.04,532.00 205.39,536.00 C205.73,540.00 206.12,544.00 206.51,548.00 C206.90,552.00 207.34,556.00 207.73,560.00 C208.12,564.00 208.49,568.00 208.84,572.00 C209.18,576.00 209.55,580.83 209.81,584.00 C210.06,587.16 210.01,587.17 210.38,591.00 C210.74,594.84 211.44,602.17 211.98,607.00 C212.53,611.84 213.09,616.16 213.63,619.99 C214.18,623.82 214.75,627.18 215.28,629.98 C215.81,632.78 216.27,634.73 216.79,636.80 C217.31,638.87 217.86,640.93 218.40,642.40 C218.94,643.87 219.40,645.67 220.00,645.60 C220.60,645.53 221.40,643.60 222.00,642.00 C222.60,640.40 223.17,638.00 223.60,635.99 C224.02,633.98 224.04,633.94 224.56,629.94 C225.08,625.95 226.06,617.99 226.72,612.00 C227.38,606.01 227.95,600.00 228.54,594.00 C229.12,588.00 229.70,581.99 230.23,575.99 C230.75,569.99 231.23,564.00 231.68,558.00 C232.14,552.00 232.54,545.67 232.95,540.00 C233.35,534.33 233.67,530.17 234.12,524.00 C234.58,517.83 235.15,510.00 235.67,503.00 C236.19,496.00 236.74,489.00 237.25,482.00 C237.77,475.00 238.28,468.00 238.75,461.00 C239.22,454.00 239.63,446.83 240.06,440.00 C240.49,433.17 240.88,426.34 241.33,420.01 C241.78,413.68 242.25,408.00 242.75,402.00 C243.25,395.99 243.83,390.00 244.32,384.00 C244.81,378.00 245.25,372.00 245.70,366.00 C246.16,360.00 246.55,354.00 247.04,348.00 C247.53,342.00 248.09,336.01 248.65,330.01 C249.21,324.01 249.84,317.99 250.40,311.99 C250.96,305.99 251.53,300.00 252.01,294.00 C252.50,288.00 252.91,282.00 253.31,276.00 C253.70,270.00 253.95,263.98 254.38,257.99 C254.81,251.99 255.33,246.03 255.88,240.03 C256.43,234.02 257.01,227.97 257.69,221.96 C258.37,215.96 259.11,209.69 259.94,204.01 C260.77,198.32 261.59,192.46 262.67,187.84 C263.75,183.23 265.11,179.47 266.44,176.31 C267.76,173.16 269.01,170.66 270.60,168.90 C272.19,167.14 274.05,165.75 276.00,165.75 C277.95,165.75 280.53,167.60 282.30,168.90 C284.07,170.20 285.38,171.60 286.60,173.58 C287.82,175.55 288.70,177.78 289.62,180.75 C290.54,183.72 291.29,186.78 292.12,191.40 C292.96,196.03 293.99,203.38 294.63,208.48 C295.28,213.59 295.48,216.77 296.01,222.02 C296.55,227.27 297.19,233.64 297.83,239.98 C298.47,246.31 299.14,253.35 299.85,260.02 C300.55,266.69 301.33,273.33 302.07,279.99 C302.81,286.65 303.75,295.32 304.31,299.99 C304.86,304.65 305.00,305.47 305.39,308.00 C305.79,310.53 306.22,312.99 306.65,315.19 C307.08,317.39 307.56,319.47 307.98,321.20 C308.40,322.94 308.76,324.40 309.20,325.60 C309.64,326.80 310.10,328.40 310.60,328.40 C311.10,328.40 311.70,327.00 312.20,325.60 C312.70,324.20 313.17,321.94 313.61,320.01 C314.04,318.07 314.42,316.14 314.82,314.00 C315.22,311.87 315.67,309.53 315.99,307.20 C316.32,304.86 316.34,304.51 316.77,299.98 C317.20,295.44 318.06,285.84 318.59,280.01 C319.12,274.18 319.45,270.00 319.95,265.00 C320.45,259.99 321.18,254.17 321.56,250.00 C321.94,245.84 321.89,245.82 322.23,239.98 C322.56,234.15 323.09,223.33 323.56,215.00 C324.04,206.67 324.60,197.51 325.07,190.01 C325.54,182.50 325.88,178.33 326.38,169.99 C326.87,161.66 327.58,148.50 328.04,140.00 C328.49,131.50 328.78,124.84 329.11,119.01 C329.45,113.17 329.62,109.66 330.05,105.00 C330.47,100.34 331.14,94.89 331.67,91.04 C332.19,87.19 332.59,83.95 333.20,81.90 C333.81,79.85 334.60,78.63 335.30,78.75 C336.00,78.87 336.77,79.97 337.40,82.60 C338.03,85.23 338.56,90.19 339.11,94.51 C339.65,98.82 340.18,103.83 340.66,108.49 C341.14,113.16 341.50,117.25 341.97,122.50 C342.45,127.75 343.02,134.08 343.50,140.00 C343.99,145.92 344.43,152.00 344.89,158.00 C345.34,164.00 345.79,170.00 346.23,176.00 C346.68,182.00 347.10,188.00 347.55,194.00 C348.00,200.00 348.46,206.00 348.95,212.00 C349.44,218.00 350.05,225.25 350.48,230.00 C350.91,234.75 351.17,237.00 351.52,240.50 C351.86,244.00 352.18,247.51 352.54,251.01 C352.90,254.51 353.28,257.99 353.68,261.49 C354.08,264.99 354.48,268.51 354.94,272.01 C355.41,275.51 355.88,278.66 356.45,282.49 C357.01,286.33 357.72,291.18 358.34,295.01 C358.96,298.84 359.53,301.99 360.17,305.49 C360.81,308.99 361.48,312.50 362.17,316.01 C362.86,319.51 363.60,323.00 364.30,326.50 C365.00,330.00 365.64,333.51 366.37,337.01 C367.09,340.50 367.91,343.96 368.64,347.47 C369.36,350.98 369.72,353.40 370.71,358.06 C371.69,362.73 373.12,369.28 374.55,375.44 C375.99,381.61 377.70,388.52 379.33,395.04 C380.96,401.56 383.30,410.42 384.33,414.57 C385.37,418.72 385.06,417.70 385.52,419.95 C385.99,422.19 386.43,425.48 387.12,428.02 C387.81,430.56 388.78,432.97 389.65,435.17 C390.52,437.38 391.49,439.49 392.35,441.22 C393.20,442.96 393.92,444.47 394.80,445.60 C395.68,446.73 396.67,447.80 397.60,448.00 C398.53,448.20 399.40,447.53 400.40,446.80 C401.40,446.07 402.48,444.88 403.62,443.62 C404.76,442.36 406.13,440.76 407.25,439.22 C408.36,437.67 409.33,436.23 410.32,434.36 C411.32,432.49 412.45,430.07 413.21,427.99 C413.96,425.92 414.12,425.24 414.88,421.91 C415.65,418.57 416.75,413.55 417.80,407.98 C418.84,402.42 420.06,395.01 421.16,388.51 C422.27,382.01 423.61,373.75 424.42,369.00 C425.23,364.25 425.51,362.84 426.03,360.01 C426.56,357.17 427.05,354.53 427.58,351.99 C428.10,349.46 428.61,347.04 429.21,344.78 C429.81,342.51 430.40,339.86 431.20,338.40 C432.00,336.94 433.13,336.07 434.00,336.00 C434.87,335.93 435.69,336.93 436.40,338.00 C437.11,339.07 437.57,340.66 438.26,342.45 C438.95,344.24 439.85,346.48 440.55,348.76 C441.25,351.03 441.63,352.80 442.46,356.09 C443.30,359.37 444.45,364.00 445.58,368.46 C446.70,372.91 447.95,378.05 449.21,382.82 C450.48,387.60 452.16,393.41 453.16,397.11 C454.16,400.81 454.50,402.36 455.19,405.00 C455.89,407.64 456.62,410.62 457.35,412.96 C458.07,415.29 458.78,417.20 459.56,419.01 C460.34,420.81 461.15,422.33 462.03,423.79 C462.90,425.26 463.84,426.73 464.80,427.80 C465.76,428.87 466.80,430.00 467.80,430.20 C468.80,430.40 469.83,429.86 470.80,429.00 C471.77,428.14 472.68,426.49 473.61,425.02 C474.54,423.55 475.39,422.06 476.38,420.19 C477.38,418.32 478.50,416.05 479.59,413.80 C480.68,411.54 482.14,408.37 482.93,406.66 C483.71,404.95 483.57,405.79 484.30,403.53 C485.03,401.27 486.31,397.42 487.33,393.11 C488.34,388.79 489.44,382.80 490.37,377.62 C491.31,372.44 491.99,367.44 492.93,362.00 C493.87,356.57 495.23,349.17 496.01,345.00 C496.80,340.84 497.02,339.81 497.62,337.00 C498.22,334.20 498.95,330.72 499.61,328.19 C500.28,325.65 500.80,323.33 501.60,321.80 C502.40,320.27 503.53,319.13 504.40,319.00 C505.27,318.87 506.09,319.85 506.80,321.00 C507.51,322.15 507.96,323.88 508.64,325.87 C509.32,327.87 510.15,330.11 510.90,332.97 C511.64,335.83 512.62,340.78 513.10,343.02 C513.59,345.25 513.23,343.54 513.83,346.38 C514.42,349.21 515.95,356.76 516.68,360.03 C517.40,363.29 517.68,364.10 518.15,365.96 C518.63,367.83 518.94,369.42 519.53,371.22 C520.11,373.03 520.97,375.27 521.67,376.78 C522.37,378.29 523.01,379.33 523.73,380.27 C524.45,381.21 525.16,381.98 526.00,382.40 C526.84,382.82 527.80,382.77 528.80,382.80 C529.80,382.83 531.07,382.53 532.00,382.60 C532.93,382.67 533.67,382.77 534.40,383.20 C535.13,383.63 535.74,384.39 536.40,385.19 C537.06,386.00 537.69,386.89 538.37,388.02 C539.04,389.15 539.89,390.64 540.46,391.98 C541.04,393.31 541.47,394.70 541.84,396.05 C542.21,397.39 542.21,397.87 542.71,400.03 C543.20,402.18 543.87,404.87 544.84,408.97 C545.81,413.07 547.26,419.19 548.53,424.62 C549.80,430.04 551.12,435.89 552.46,441.51 C553.80,447.13 555.07,452.29 556.57,458.36 C558.08,464.43 559.80,470.99 561.48,477.93 C563.17,484.87 565.47,494.77 566.71,500.02 C567.94,505.26 567.87,505.65 568.91,509.40 C569.94,513.15 571.47,518.17 572.91,522.52 C574.35,526.88 576.00,531.19 577.52,535.53 C579.05,539.86 580.44,544.19 582.08,548.52 C583.71,552.85 585.35,557.43 587.34,561.51 C589.33,565.59 591.67,569.53 594.02,573.02 C596.36,576.50 598.86,579.36 601.41,582.43 C603.97,585.50 606.70,588.45 609.35,591.45 C611.99,594.45 614.67,597.63 617.29,600.42 C619.91,603.22 622.89,606.07 625.06,608.23 C627.24,610.40 628.51,611.28 630.31,613.40 C632.12,615.52 634.19,618.23 635.88,620.94 C637.58,623.65 639.01,626.72 640.48,629.65 C641.96,632.58 643.07,635.24 644.71,638.55 C646.36,641.85 648.33,645.82 650.36,649.48 C652.39,653.13 654.55,656.81 656.91,660.49 C659.27,664.17 661.93,668.10 664.51,671.58 C667.09,675.05 669.80,678.54 672.40,681.34 C675.00,684.14 677.58,686.56 680.13,688.38 C682.67,690.20 685.14,691.25 687.66,692.26 C690.19,693.27 692.90,693.77 695.29,694.45 C697.68,695.12 700.28,695.68 702.00,696.30 C703.72,696.93 704.02,697.14 705.59,698.19 C707.15,699.24 709.47,701.01 711.39,702.60 C713.31,704.18 715.21,705.95 717.12,707.68 C719.03,709.41 720.91,711.29 722.84,712.98 C724.77,714.68 726.80,716.46 728.71,717.87 C730.62,719.27 732.40,720.48 734.29,721.41 C736.19,722.33 737.82,722.69 740.08,723.42 C742.35,724.14 745.62,724.95 747.89,725.75 C750.16,726.56 751.79,727.23 753.71,728.23 C755.63,729.24 757.50,730.72 759.40,731.78 C761.30,732.84 763.18,734.05 765.10,734.60 C767.02,735.15 768.80,735.20 770.90,735.10 C773.00,735.00 775.23,734.28 777.70,734.00 C780.17,733.72 783.42,733.30 785.70,733.40 C787.98,733.50 789.11,733.67 791.40,734.60 C793.69,735.53 796.60,737.33 799.46,738.97 C802.32,740.60 805.50,742.56 808.54,744.39 C811.59,746.23 814.85,748.29 817.72,749.98 C820.59,751.67 822.88,753.10 825.74,754.54 C828.60,755.98 831.85,757.46 834.90,758.60 C837.94,759.74 841.14,760.69 844.00,761.39 C846.85,762.10 849.13,762.35 852.02,762.83 C854.91,763.31 857.88,763.74 861.36,764.26 C864.85,764.78 869.10,765.43 872.92,765.96 C876.75,766.48 880.50,767.01 884.30,767.40 C888.10,767.79 891.90,768.15 895.70,768.30 C899.50,768.45 903.67,768.17 907.10,768.30 C910.53,768.43 913.43,768.87 916.30,769.10 C919.17,769.33 922.02,769.75 924.30,769.70 C926.58,769.65 927.90,769.33 930.00,768.80 C932.10,768.27 934.62,767.02 936.90,766.50 C939.18,765.98 941.23,765.70 943.70,765.70 C946.17,765.70 949.04,766.01 951.70,766.50 C954.36,766.99 956.81,767.92 959.69,768.65 C962.56,769.38 965.71,770.22 968.94,770.88 C972.18,771.55 976.09,772.05 979.10,772.64 C982.11,773.23 984.13,773.61 987.00,774.42 C989.88,775.23 993.18,776.43 996.36,777.50 C999.55,778.58 1003.49,780.13 1006.12,780.86 C1008.75,781.59 1009.11,781.48 1012.14,781.88 C1015.17,782.28 1020.24,782.75 1024.28,783.25 C1028.33,783.75 1032.34,784.27 1036.40,784.89 C1040.45,785.50 1044.56,786.29 1048.61,786.96 C1052.66,787.64 1056.65,788.32 1060.70,788.92 C1064.75,789.52 1068.85,790.10 1072.90,790.58 C1076.95,791.05 1080.97,791.45 1085.00,791.77 C1089.03,792.10 1093.05,792.32 1097.10,792.52 C1101.15,792.71 1105.25,792.78 1109.30,792.95 C1113.35,793.12 1117.34,793.29 1121.39,793.53 C1125.44,793.76 1129.55,794.07 1133.60,794.35 C1137.65,794.63 1141.65,794.99 1145.70,795.20 C1149.75,795.41 1153.37,795.62 1157.90,795.60 C1162.43,795.58 1168.27,795.33 1172.90,795.10 C1177.53,794.87 1181.42,794.15 1185.70,794.20 C1189.98,794.25 1194.31,795.01 1198.60,795.40 C1202.89,795.79 1207.13,796.21 1211.41,796.53 C1215.69,796.85 1220.01,797.07 1224.29,797.31 C1228.57,797.56 1232.82,797.74 1237.10,798.00 C1241.38,798.26 1246.13,798.75 1250.00,798.90 C1253.87,799.05 1257.08,799.33 1260.30,798.90 C1263.52,798.47 1265.67,797.37 1269.30,796.30 C1272.93,795.23 1277.82,793.66 1282.10,792.49 C1286.39,791.33 1290.72,790.20 1295.00,789.30 C1299.28,788.40 1303.52,787.47 1307.80,787.10 C1312.08,786.73 1317.48,787.10 1320.70,787.10 C1323.92,787.10 1324.48,787.37 1327.10,787.10 C1329.72,786.83 1334.85,785.77 1336.40,785.50" stroke="#4daf4a"/>
</g>
<g stroke="#000" stroke-width="1.1" fill="none" stroke-linecap="square">
<path d="M167.5,847.5 L167.5,42.5 L1336.4,42.5 L1336.4,847.5 Z"/>
<path d="M162.60,810.50 H167.5"/>
<path d="M162.60,689.48 H167.5"/>
<path d="M162.60,568.46 H167.5"/>
<path d="M162.60,447.44 H167.5"/>
<path d="M162.60,326.42 H167.5"/>
<path d="M162.60,205.40 H167.5"/>
<path d="M162.60,84.38 H167.5"/>
<path d="M167.50,847.5 V852.40"/>
<path d="M362.32,847.5 V852.40"/>
<path d="M557.13,847.5 V852.40"/>
<path d="M751.95,847.5 V852.40"/>
<path d="M946.77,847.5 V852.40"/>
<path d="M1141.58,847.5 V852.40"/>
<path d="M1336.40,847.5 V852.40"/>
</g>
<rect x="1128.5" y="60.5" width="189.9" height="171" rx="7" ry="7" fill="#fff" fill-opacity="0.8" stroke="#d0d0d0" stroke-width="1.1"/>
<path d="M1141,89.5 H1215.7" stroke="#e41a1c" stroke-width="2.9"/>
<path d="M1141,142.5 H1215.7" stroke="#377eb8" stroke-width="2.9"/>
<path d="M1141,196.5 H1215.7" stroke="#4daf4a" stroke-width="2.9"/>
<g font-family="Liberation Sans, sans-serif" fill="#000" opacity="0.999">
<text transform="translate(126.39,828.70) scale(1.0000,1)" x="1.30" y="0" font-size="52.5">0</text>
<text transform="translate(126.39,707.70) scale(1.0000,1)" x="0.63" y="0" font-size="52.5">2</text>
<text transform="translate(126.39,586.80) scale(1.0000,1)" x="1.29" y="0" font-size="52.5">4</text>
<text transform="translate(126.39,464.80) scale(1.0000,1)" x="1.30" y="0" font-size="52.5">6</text>
<text transform="translate(126.39,343.90) scale(1.0000,1)" x="1.30" y="0" font-size="52.5">8</text>
<text transform="translate(94.58,222.75) scale(1.0000,1)" x="1.05 33.12" y="0" font-size="52.5">10</text>
<text transform="translate(94.58,102.75) scale(1.0000,1)" x="1.05 32.44" y="0" font-size="52.5">12</text>
<text transform="translate(151.30,895.20) scale(1.0000,1)" x="1.30" y="0" font-size="52.5">0</text>
<text transform="translate(346.37,895.20) scale(1.0000,1)" x="1.11" y="0" font-size="52.5">5</text>
<text transform="translate(523.93,895.20) scale(1.0000,1)" x="1.05 33.12" y="0" font-size="52.5">10</text>
<text transform="translate(719.27,895.20) scale(1.0000,1)" x="1.05 32.92" y="0" font-size="52.5">15</text>
<text transform="translate(914.49,895.20) scale(1.0000,1)" x="0.63 33.12" y="0" font-size="52.5">20</text>
<text transform="translate(1109.83,895.20) scale(1.0000,1)" x="0.63 32.92" y="0" font-size="52.5">25</text>
<text transform="translate(1304.04,895.20) scale(1.0000,1)" x="1.36 33.12" y="0" font-size="52.5">30</text>
<text transform="translate(578.98,954.70) scale(1.0000,1)" x="-2.11 38.53 74.92 112.70 133.85 171.68 220.48 222.44 246.61 281.00 324.05" y="0" font-size="61">Energy (eV)</text>
<text transform="translate(77.00,838.62) rotate(-90) scale(1.0000,1)" x="0.54 46.25 62.22 98.34 114.31 149.20 181.94 217.18 220.81 240.18 277.43 312.83 347.59 369.01 384.77 421.24 456.22 479.41 499.67 552.05 590.24 642.46 646.53 680.38 720.38 744.17 767.00" y="0" font-size="61">Dielec. function(Imag part)</text>
<text transform="translate(1244.44,100.90) scale(1.0524,1)" font-size="37" font-style="italic">ε</text>
<text transform="translate(1263.25,106.90) scale(1.0374,1)" font-size="26">2</text>
<text transform="translate(1280.67,100.90) scale(1.0592,1)" font-size="37" font-style="italic">x</text>
<text transform="translate(1244.44,154.10) scale(1.0524,1)" font-size="37" font-style="italic">ε</text>
<text transform="translate(1263.25,160.00) scale(1.0374,1)" font-size="26">2</text>
<text transform="translate(1281.08,154.10) scale(1.0035,1)" font-size="37" font-style="italic">y</text>
<text transform="translate(1244.44,208.10) scale(1.0524,1)" font-size="37" font-style="italic">ε</text>
<text transform="translate(1263.25,214.00) scale(1.0374,1)" font-size="26">2</text>
<text transform="translate(1280.23,208.10) scale(1.0437,1)" font-size="37" font-style="italic">z</text>
</g>
</svg>
</body></html>
